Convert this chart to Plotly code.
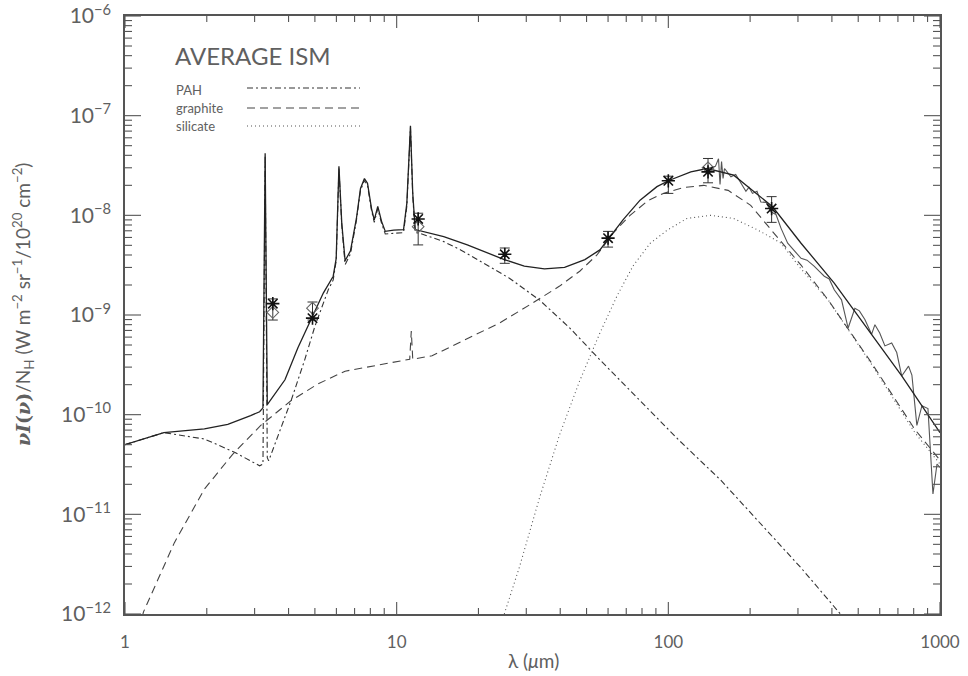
import math
import plotly.graph_objects as go

# ---------------- model spectra (wavelength in micron, nu*I_nu/N_H) ----------------
total_lam = [1.00, 1.39, 1.96, 2.39, 2.90, 3.13, 3.22, 3.28, 3.34, 3.88, 4.33, 4.84, 5.37,
             5.84, 5.99, 6.13, 6.28, 6.46, 6.76, 7.11, 7.36, 7.61, 7.81, 8.08, 8.27, 8.52,
             8.80, 9.08, 9.75, 10.6, 10.9, 11.24, 11.46, 11.7, 12.2, 14.9, 18.2, 21.5, 24.9,
             29.5, 35.0, 41.5, 49.3, 56.0, 68.1, 78.7, 90.8, 101, 121, 139, 174, 242, 308,
             408, 544, 723, 1000]
total_val = [5.0e-11, 6.6e-11, 7.2e-11, 8.0e-11, 9.8e-11, 1.07e-10, 1.17e-10, 4.2e-8, 1.26e-10,
             2.24e-10, 4.7e-10, 8.9e-10, 1.66e-9, 2.45e-9, 3.7e-9, 3.1e-8, 8.3e-9, 3.5e-9,
             4.4e-9, 9.3e-9, 1.86e-8, 2.34e-8, 2.1e-8, 1.17e-8, 9.0e-9, 1.23e-8, 8.7e-9,
             6.9e-9, 7.1e-9, 7.2e-9, 1.32e-8, 7.9e-8, 1.66e-8, 7.2e-9, 7.0e-9, 6.1e-9,
             5.05e-9, 4.2e-9, 3.6e-9, 3.1e-9, 2.9e-9, 3.0e-9, 3.6e-9, 4.5e-9, 9.0e-9,
             1.42e-8, 1.94e-8, 2.25e-8, 2.73e-8, 2.95e-8, 2.53e-8, 1.22e-8, 5.25e-9,
             2.09e-9, 7.1e-10, 2.45e-10, 6.6e-11]

pah_lam = [1.00, 1.39, 1.96, 2.53, 3.13, 3.22, 3.28, 3.34, 3.38, 3.53, 3.76, 4.10, 4.59, 5.00,
           5.60, 5.84, 5.99, 6.13, 6.28, 6.46, 6.76, 7.11, 7.36, 7.61, 7.81, 8.08, 8.27, 8.52,
           8.80, 9.08, 9.75, 10.6, 10.9, 11.24, 11.46, 11.7, 12.2, 14.9, 17.2, 21.0, 26.0,
           33.6, 43.4, 56.0, 78.7, 109, 156, 219, 308, 430, 560]
pah_val = [5.0e-11, 6.6e-11, 5.7e-11, 4.2e-11, 3.07e-11, 3.2e-11, 4.0e-8, 3.7e-11, 3.44e-11,
           4.7e-11, 7.7e-11, 1.42e-10, 3.57e-10, 7.7e-10, 1.79e-9, 2.25e-9, 3.5e-9, 2.95e-8,
           7.9e-9, 3.2e-9, 4.1e-9, 8.9e-9, 1.78e-8, 2.24e-8, 2.0e-8, 1.12e-8, 8.5e-9, 1.17e-8,
           8.3e-9, 6.5e-9, 6.6e-9, 6.7e-9, 1.23e-8, 7.6e-8, 1.55e-8, 6.7e-9, 6.6e-9, 5.45e-9,
           4.5e-9, 3.3e-9, 2.34e-9, 1.41e-9, 7.4e-10, 3.55e-10, 1.38e-10, 5.6e-11, 2.2e-11,
           8.1e-12, 2.9e-12, 1.0e-12, 4.4e-13]

graphite_lam = [1.09, 1.17, 1.52, 1.96, 2.49, 3.16, 4.08, 5.14, 6.46, 8.80, 11.17, 11.32, 11.46,
                13.5, 18.5, 23.9, 30.8, 39.8, 47.2, 54.6, 62.5, 72.3, 84.3, 95.8, 114, 135,
                166, 201, 245, 308, 388, 460, 560, 808, 1000]
graphite_val = [5.2e-13, 1.05e-12, 5.2e-12, 1.79e-11, 4.0e-11, 7.8e-11, 1.38e-10, 2.04e-10,
                2.73e-10, 3.2e-10, 3.6e-10, 6.9e-10, 3.6e-10, 3.9e-10, 5.9e-10, 8.3e-10,
                1.26e-9, 1.95e-9, 2.75e-9, 4.0e-9, 6.6e-9, 1.0e-8, 1.41e-8, 1.66e-8, 1.9e-8,
                2.0e-8, 1.78e-8, 1.26e-8, 6.6e-9, 3.16e-9, 1.41e-9, 7.1e-10, 3.3e-10,
                7.1e-11, 3.5e-11]

silicate_lam = [24.9, 28.3, 33.6, 39.8, 47.2, 56.0, 64.7, 74.1, 85.8, 99.1, 117, 143, 174,
                214, 260, 308, 388, 460, 560, 808, 1000]
silicate_val = [1.0e-12, 2.95e-12, 1.48e-11, 6.3e-11, 2.19e-10, 6.6e-10, 1.55e-9, 3.1e-9,
                5.25e-9, 7.1e-9, 9.3e-9, 1.0e-8, 9.3e-9, 7.1e-9, 5.25e-9, 2.9e-9, 1.41e-9,
                7.1e-10, 3.2e-10, 6.6e-11, 3.2e-11]

# measured far-infrared spectrum
spec_lam = [139, 149, 153, 155, 157, 159, 161, 170, 177, 185, 193, 198, 204, 212, 219, 229,
            239, 249, 260, 275, 295, 308, 324, 344, 359, 375, 391, 408, 434, 459, 486, 505,
            529, 560, 576, 600, 627, 664, 693, 723, 766, 788, 822, 858, 903, 942, 975, 1000]
spec_val = [2.95e-8, 3.1e-8, 3.7e-8, 2.04e-8, 3.47e-8, 2.34e-8, 2.95e-8, 2.44e-8, 2.57e-8,
            2.09e-8, 1.74e-8, 1.91e-8, 1.66e-8, 1.74e-8, 1.36e-8, 1.35e-8, 1.08e-8, 1.02e-8,
            7.4e-9, 5.25e-9, 4.2e-9, 3.7e-9, 3.55e-9, 3.1e-9, 2.75e-9, 2.45e-9, 2.3e-9,
            1.79e-9, 1.42e-9, 7.4e-10, 1.17e-9, 1.10e-9, 9.0e-10, 6.4e-10, 8.0e-10, 6.6e-10,
            4.9e-10, 5.25e-10, 4.2e-10, 2.44e-10, 3.07e-10, 2.5e-10, 7.8e-11, 1.23e-10,
            1.15e-10, 1.6e-11, 3.2e-11, 2.95e-11]

# broadband photometry
obs_lam = [3.5, 4.9, 12, 25, 60, 100, 140, 240]
obs_star = [1.30e-9, 0.93e-9, 9.2e-9, 4.07e-9, 5.9e-9, 2.22e-8, 2.73e-8, 1.17e-8]
obs_hi = [1.45e-9, 1.35e-9, 1.05e-8, 4.7e-9, 6.9e-9, 2.47e-8, 3.72e-8, 1.54e-8]
obs_lo = [0.89e-9, 0.89e-9, 5.05e-9, 3.3e-9, 4.8e-9, 1.66e-8, 2.12e-8, 8.5e-9]
diam_lam = [3.5, 4.9, 12, 140]
diam_val = [1.06e-9, 1.17e-9, 7.7e-9, 3.0e-8]

x_tickvals = [1, 10, 100, 1000]
x_ticktext = ["1", "10", "100", "1000"]
y_tickvals = [1e-12, 1e-11, 1e-10, 1e-9, 1e-8, 1e-7, 1e-6]
y_ticktext = ["10<sup>−12</sup>", "10<sup>−11</sup>", "10<sup>−10</sup>", "10<sup>−9</sup>",
              "10<sup>−8</sup>", "10<sup>−7</sup>", "10<sup>−6</sup>"]

X_LOG_RANGE = (0.0, 3.0)
Y_LOG_RANGE = (-12.0, -6.0)

FONT = "Lato"
TXT = "#606060"
AX = "#555555"
DASHDOT = "6px,3px,2px,3px"
DASH = "8px,5px"
DOT = "1px,3px"

fig = go.Figure()

fig.add_trace(go.Scatter(x=silicate_lam, y=silicate_val, mode="lines",
                         line=dict(color="#555555", width=1.1, dash=DOT)))
fig.add_trace(go.Scatter(x=graphite_lam, y=graphite_val, mode="lines",
                         line=dict(color="#444444", width=1.1, dash=DASH)))
fig.add_trace(go.Scatter(x=pah_lam, y=pah_val, mode="lines",
                         line=dict(color="#333333", width=1.1, dash=DASHDOT)))
fig.add_trace(go.Scatter(x=spec_lam, y=spec_val, mode="lines",
                         line=dict(color="#555555", width=1.1)))
fig.add_trace(go.Scatter(x=total_lam, y=total_val, mode="lines",
                         line=dict(color="#222222", width=1.3)))

# error bars
fig.add_trace(go.Scatter(
    x=obs_lam, y=obs_star, mode="markers",
    marker=dict(size=1, color="rgba(0,0,0,0)"),
    error_y=dict(type="data", symmetric=False,
                 array=[h - s for h, s in zip(obs_hi, obs_star)],
                 arrayminus=[s - l for s, l in zip(obs_star, obs_lo)],
                 color="#333333", thickness=1, width=5)))
fig.add_trace(go.Scatter(x=diam_lam, y=diam_val, mode="markers",
                         marker=dict(symbol="diamond-open", size=9, color="#666666",
                                     line=dict(color="#666666", width=1.1))))
fig.add_trace(go.Scatter(x=obs_lam, y=obs_star, mode="markers",
                         marker=dict(symbol="asterisk-open", size=11, color="#111111",
                                     line=dict(color="#111111", width=1.6))))

axis_common = dict(type="log", showgrid=False, zeroline=False, showline=True,
                   linecolor=AX, linewidth=1.5, mirror=True, ticks="",
                   tickmode="array", ticklabeloverflow="allow", automargin=False)

fig.update_xaxes(**axis_common, range=list(X_LOG_RANGE), tickvals=x_tickvals,
                 ticktext=x_ticktext, ticklabelstandoff=12,
                 tickfont=dict(family=FONT, size=17, color=TXT))
fig.update_yaxes(**axis_common, range=list(Y_LOG_RANGE), tickvals=y_tickvals,
                 ticktext=y_ticktext, ticklabelstandoff=8,
                 tickfont=dict(family=FONT, size=21, color=TXT))

L, R, T, B = 125, 28, 16, 62
W, H = 968, 676
PW, PH = W - L - R, H - T - B


def px(xp):
    return (xp - L) / PW


def py(yp):
    return (T + PH - yp) / PH


# inside tick marks on all four sides (major decades + minor 2..9)
def x_frac(v):
    return (math.log10(v) - X_LOG_RANGE[0]) / (X_LOG_RANGE[1] - X_LOG_RANGE[0])


def y_frac(v):
    return (math.log10(v) - Y_LOG_RANGE[0]) / (Y_LOG_RANGE[1] - Y_LOG_RANGE[0])


tick_line = dict(color=AX, width=1.1)
shapes = []
x_ticks = [(10.0 ** e * m, 12 if m == 1 else 6)
           for e in range(0, 3) for m in range(1, 10)] + [(1000.0, 12)]
for v, ln in x_ticks:
    xf = x_frac(v)
    shapes.append(dict(type="line", xref="paper", yref="paper", ysizemode="pixel",
                       yanchor=0, x0=xf, x1=xf, y0=0, y1=ln, line=tick_line))
    shapes.append(dict(type="line", xref="paper", yref="paper", ysizemode="pixel",
                       yanchor=1, x0=xf, x1=xf, y0=0, y1=-ln, line=tick_line))
y_ticks = [(10.0 ** e * m, 16 if m == 1 else 7)
           for e in range(-12, -6) for m in range(1, 10)] + [(1e-6, 16)]
for v, ln in y_ticks:
    yf = y_frac(v)
    shapes.append(dict(type="line", xref="paper", yref="paper", xsizemode="pixel",
                       xanchor=0, y0=yf, y1=yf, x0=0, x1=ln, line=tick_line))
    shapes.append(dict(type="line", xref="paper", yref="paper", xsizemode="pixel",
                       xanchor=1, y0=yf, y1=yf, x0=0, x1=-ln, line=tick_line))

# legend samples
for yp, dash, col in [(88, DASHDOT, "#333333"), (108, DASH, "#444444"), (126, DOT, "#555555")]:
    shapes.append(dict(type="line", xref="paper", yref="paper",
                       x0=px(247), x1=px(360), y0=py(yp), y1=py(yp),
                       line=dict(color=col, width=1.1, dash=dash)))

annotations = [
    dict(text="AVERAGE ISM", x=px(173), y=py(56), xanchor="left", yanchor="middle",
         font=dict(family=FONT, size=24, color=TXT)),
    dict(text="PAH", x=px(174), y=py(90), xanchor="left", yanchor="middle",
         font=dict(family=FONT, size=13, color=TXT)),
    dict(text="graphite", x=px(174), y=py(108), xanchor="left", yanchor="middle",
         font=dict(family=FONT, size=13, color=TXT)),
    dict(text="silicate", x=px(174), y=py(126), xanchor="left", yanchor="middle",
         font=dict(family=FONT, size=13, color=TXT)),
    dict(text="λ (<i>μ</i>m)", x=px(533), y=py(660), xanchor="center", yanchor="middle",
         font=dict(family=FONT, size=19, color=TXT)),
    dict(text="<span style='font-family:DejaVu Serif'><b><i>νI</i>(<i>ν</i>)</b></span>"
              "/N<sub>H</sub> (W m<sup>−2</sup> sr<sup>−1</sup>/10<sup>20</sup> cm<sup>−2</sup>)",
         x=px(23), y=py(305), xanchor="center", yanchor="middle", textangle=-90,
         font=dict(family=FONT, size=19, color=TXT)),
]
for a in annotations:
    a.update(xref="paper", yref="paper", showarrow=False)

fig.update_layout(width=W, height=H, margin=dict(l=L, r=R, t=T, b=B),
                  paper_bgcolor="white", plot_bgcolor="white", showlegend=False,
                  annotations=annotations, shapes=shapes)

fig.write_html("out.html")
